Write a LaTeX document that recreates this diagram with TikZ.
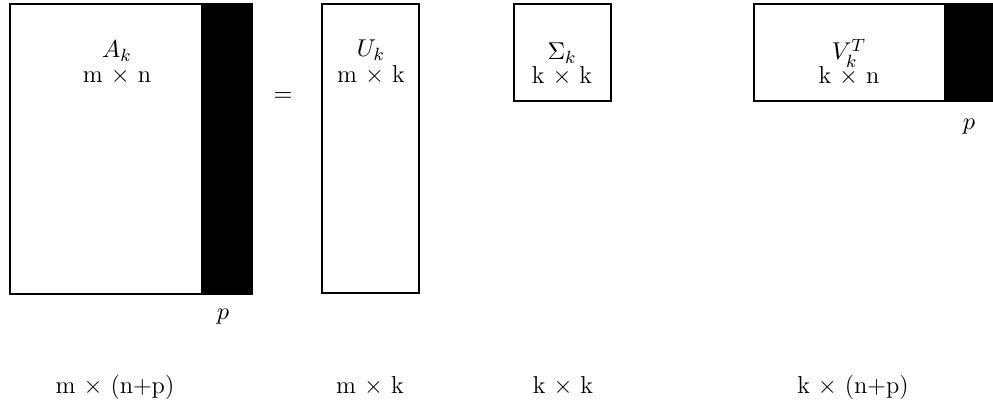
\documentclass[tikz,border=0pt]{standalone}
\newcommand{\tms}{\hspace{3.6pt}$\times$\hspace{3.6pt}}
\begin{document}
\begin{tikzpicture}[x=0.45pt,y=-0.45pt,
  mat/.style={draw=black,line width=1pt,fill=white},
  blk/.style={fill=black},
  lbl/.style={inner sep=0pt,anchor=base,font=\fontsize{11}{13}\selectfont},
  top/.style={lbl,text depth=0pt},
  dim/.style={lbl,text height=6pt}]
\useasboundingbox (0,0) rectangle (993,408);
% A_k
\path[mat] (10,4) rectangle (252,294);
\path[blk] (201,4) rectangle (252,294);
\draw[line width=1pt] (10,4) rectangle (252,294);
% U_k
\path[mat] (322,4) rectangle (419,293);
% Sigma_k
\path[mat] (514,4) rectangle (611,101);
% V_k^T
\path[mat] (754,4) rectangle (992,101);
\path[blk] (944,4) rectangle (992,101);
\draw[line width=1pt] (754,4) rectangle (992,101);

\node[top] (an) at (117,58) {$A_k$};
\node[dim] (ad) at (117,83) {m\tms n};
\node[lbl,anchor=center] (eq) at (283,97.5) {$=$};
\node[top] (un) at (371,57) {$U_k$};
\node[dim] (ud) at (371,83) {m\tms k};
\node[top] (sn) at (562,60) {$\Sigma_k$};
\node[dim] (sd) at (562,84) {k\tms k};
\node[top] (vn) at (849,60) {$V_k^T$};
\node[dim] (vd) at (849,84) {k\tms n};
\node[lbl,anchor=center] (p1) at (223,317) {$p$};
\node[lbl,anchor=center] (p2) at (969,127) {$p$};

\node[lbl] (b1) at (115,394) {m\tms (n+p)};
\node[lbl] (b2) at (370,394) {m\tms k};
\node[lbl] (b3) at (563,394) {k\tms k};
\node[lbl] (b4) at (853,394) {k\tms (n+p)};
\end{tikzpicture}
\end{document}
